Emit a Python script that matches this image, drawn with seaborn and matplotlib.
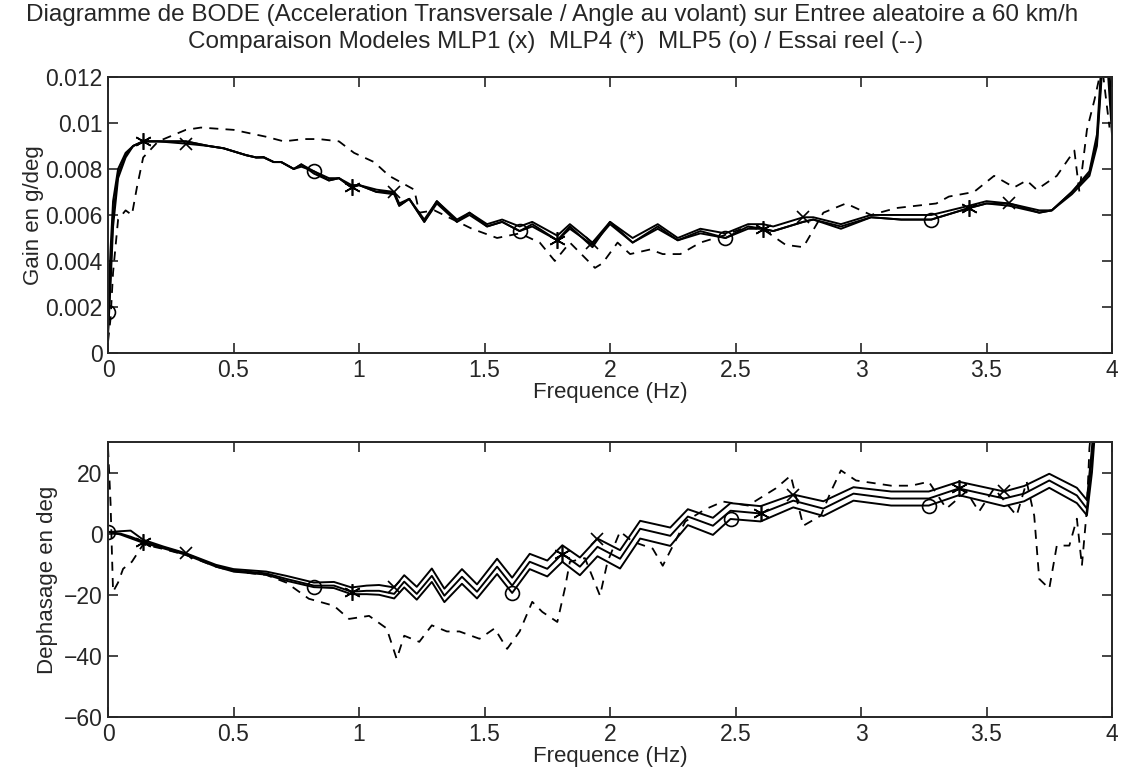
import numpy as np
import pandas as pd
import matplotlib
matplotlib.use("Agg")
import matplotlib.pyplot as plt
import seaborn as sns

# gain plot (g/deg)
gain_f = [0.00, 0.01, 0.02, 0.04, 0.07, 0.10, 0.14, 0.20, 0.31, 0.40,
          0.46, 0.55, 0.59, 0.62, 0.66, 0.69, 0.74, 0.77, 0.82, 0.88,
          0.92, 0.97, 1.00, 1.07, 1.14, 1.16, 1.20, 1.26, 1.31, 1.39,
          1.44, 1.51, 1.57, 1.64, 1.69, 1.79, 1.84, 1.93, 2.00, 2.09,
          2.19, 2.27, 2.36, 2.46, 2.55, 2.61, 2.65, 2.77, 2.81, 2.92,
          3.04, 3.16, 3.28, 3.43, 3.50, 3.59, 3.71, 3.76, 3.84, 3.91,
          3.94, 3.96, 3.98, 4.00]
gain_mlp1 = [0.0008, 0.0030, 0.0055, 0.0076, 0.0085, 0.0090, 0.0092, 0.0092, 0.0091, 0.0090,
             0.0089, 0.0086, 0.0085, 0.0085, 0.0083, 0.0083, 0.0080, 0.0081, 0.0079, 0.0076,
             0.0076, 0.0073, 0.0073, 0.0071, 0.0070, 0.0065, 0.0067, 0.0058, 0.0066, 0.0058,
             0.0061, 0.0056, 0.0058, 0.0055, 0.0057, 0.0051, 0.0056, 0.0048, 0.0057, 0.0050,
             0.0056, 0.0050, 0.0054, 0.0052, 0.0056, 0.0056, 0.0055, 0.0059, 0.0059, 0.0056,
             0.0060, 0.0060, 0.0060, 0.0064, 0.0066, 0.0065, 0.0062, 0.0062, 0.0070, 0.0079,
             0.0095, 0.0130, 0.0128, 0.0095]
gain_mlp4 = [0.0010, 0.0035, 0.0060, 0.0078, 0.0086, 0.0090, 0.0092, 0.0092, 0.0092, 0.0090,
             0.0089, 0.0086, 0.0085, 0.00852, 0.0083, 0.0083, 0.0080, 0.0082, 0.0078, 0.0075,
             0.0076, 0.0072, 0.0073, 0.0070, 0.0070, 0.0064, 0.0067, 0.0057, 0.0066, 0.0057,
             0.0061, 0.0055, 0.0057, 0.0053, 0.0056, 0.0049, 0.0055, 0.0046, 0.0057, 0.0048,
             0.0055, 0.0049, 0.0053, 0.0050, 0.0055, 0.0054, 0.0053, 0.0057, 0.0058, 0.0054,
             0.0059, 0.0058, 0.0058, 0.0063, 0.0065, 0.0065, 0.0061, 0.0062, 0.0070, 0.0078,
             0.0092, 0.0125, 0.0135, 0.0100]
gain_mlp5 = [0.0018, 0.0045, 0.0066, 0.0080, 0.0087, 0.0090, 0.0092, 0.0092, 0.0092, 0.0090,
             0.0089, 0.0086, 0.0085, 0.0085, 0.0083, 0.0083, 0.0080, 0.0082, 0.0079, 0.0075,
             0.0076, 0.0072, 0.0073, 0.0070, 0.0069, 0.0064, 0.0067, 0.0057, 0.0065, 0.0057,
             0.0060, 0.0055, 0.0057, 0.0053, 0.0055, 0.0049, 0.0054, 0.0047, 0.0056, 0.0048,
             0.0054, 0.0049, 0.0052, 0.0050, 0.0054, 0.0054, 0.0053, 0.0057, 0.0058, 0.0055,
             0.0059, 0.0058, 0.0058, 0.0063, 0.0065, 0.0064, 0.0061, 0.0062, 0.0069, 0.0077,
             0.0090, 0.0122, 0.0138, 0.0105]

meas_gf = [0.000, 0.010, 0.020, 0.040, 0.070, 0.095, 0.115, 0.14, 0.20, 0.31,
           0.37, 0.50, 0.63, 0.70, 0.78, 0.84, 0.92, 0.98, 1.06, 1.12,
           1.22, 1.24, 1.30, 1.45, 1.55, 1.64, 1.72, 1.78, 1.84, 1.94,
           1.97, 2.03, 2.08, 2.16, 2.21, 2.28, 2.36, 2.45, 2.55, 2.62,
           2.70, 2.77, 2.85, 2.94, 3.04, 3.14, 3.30, 3.35, 3.45, 3.53,
           3.61, 3.66, 3.70, 3.78, 3.85, 3.87, 3.90, 3.93, 3.96, 3.99]
meas_gain = [0.0005, 0.0015, 0.0035, 0.0058, 0.0062, 0.0060, 0.0072, 0.0085, 0.0092, 0.0097,
             0.0098, 0.0097, 0.0094, 0.0092, 0.0093, 0.0093, 0.0092, 0.0087, 0.0083, 0.0077,
             0.0071, 0.0061, 0.0062, 0.0054, 0.0050, 0.0052, 0.0048, 0.0040, 0.0048, 0.0037,
             0.0039, 0.0048, 0.0043, 0.0045, 0.0043, 0.0043, 0.0048, 0.0051, 0.0055, 0.0053,
             0.0047, 0.0046, 0.0061, 0.0065, 0.0060, 0.0063, 0.0065, 0.0068, 0.0070, 0.0077,
             0.0072, 0.0075, 0.0071, 0.0077, 0.0088, 0.0070, 0.0097, 0.0110, 0.0125, 0.0098]

# phase plot (deg)
phase_f = [0.00, 0.05, 0.09, 0.14, 0.22, 0.31, 0.43, 0.50, 0.63, 0.71,
           0.82, 0.90, 0.97, 1.03, 1.08, 1.14, 1.18, 1.23, 1.29, 1.34,
           1.41, 1.47, 1.55, 1.61, 1.68, 1.75, 1.81, 1.88, 1.95, 2.04,
           2.12, 2.24, 2.31, 2.41, 2.48, 2.60, 2.73, 2.85, 2.97, 3.12,
           3.27, 3.39, 3.57, 3.65, 3.75, 3.86, 3.90, 3.92, 3.94]
phase_mlp1 = [0.5, 0.8, 1.0, -2.0, -4.2, -6.4, -10.2, -11.6, -12.4, -13.8,
              -16.0, -15.8, -17.6, -17.0, -16.8, -17.6, -13.6, -17.4, -11.4, -18.0,
              -11.6, -16.6, -8.2, -14.4, -6.6, -8.8, -3.8, -7.8, -1.6, -5.4,
              4.2, 2.0, 8.0, 5.2, 10.0, 9.0, 12.8, 10.6, 15.2, 13.8,
              13.8, 17.0, 13.8, 15.6, 19.6, 15.0, 11.0, 28.0, 50.0]
phase_mlp4 = [0.5, 0.0, -1.0, -2.6, -4.5, -6.6, -10.5, -12.0, -13.0, -14.8,
              -17.0, -17.0, -19.0, -18.7, -18.7, -19.7, -15.7, -19.7, -13.8, -20.3,
              -14.1, -19.0, -10.8, -17.0, -9.2, -11.5, -6.6, -10.8, -4.3, -8.2,
              1.6, -0.7, 5.6, 2.6, 7.5, 6.6, 10.8, 8.2, 13.1, 11.5,
              11.5, 14.8, 11.5, 13.1, 17.4, 12.5, 8.2, 25.0, 45.0]
phase_mlp5 = [0.7, -0.3, -1.5, -3.0, -4.8, -6.9, -10.8, -12.4, -13.4, -15.4,
              -17.5, -17.8, -19.8, -19.8, -20.0, -21.2, -17.6, -21.6, -15.8, -22.4,
              -16.4, -21.2, -13.2, -19.4, -11.6, -14.0, -9.2, -13.6, -7.4, -11.4,
              -1.6, -4.0, 2.8, -0.4, 4.8, 4.0, 8.6, 5.8, 10.8, 9.2,
              9.2, 12.6, 9.0, 10.6, 15.0, 10.0, 6.0, 20.0, 42.0]

meas_pf = [0.000, 0.010, 0.015, 0.020, 0.040, 0.060, 0.075, 0.095, 0.14, 0.22,
           0.31, 0.43, 0.50, 0.63, 0.71, 0.80, 0.90, 0.96, 1.04, 1.11,
           1.15, 1.18, 1.24, 1.29, 1.35, 1.40, 1.48, 1.54, 1.59, 1.64,
           1.69, 1.73, 1.79, 1.82, 1.84, 1.90, 1.96, 1.99, 2.04, 2.09,
           2.17, 2.21, 2.30, 2.38, 2.45, 2.55, 2.66, 2.72, 2.77, 2.84,
           2.88, 2.92, 2.98, 3.12, 3.20, 3.27, 3.34, 3.42, 3.47, 3.53,
           3.62, 3.66, 3.69, 3.71, 3.75, 3.78, 3.83, 3.86, 3.88, 3.90,
           3.91, 3.93]
meas_phase = [28, 10, -5, -19, -16, -11.5, -10.5, -9.2, -3.5, -5,
              -7, -10.8, -12.3, -13.5, -16, -21.3, -23.6, -27.9, -26.9, -31,
              -41, -33.4, -35.4, -30, -32, -32, -34.4, -31, -37.7, -32,
              -22.3, -25.6, -28.9, -18, -9.2, -8, -20.3, -9.2, 0.7, -2.6,
              -4.9, -10.5, 4, 8, 10.5, 9.2, 14.8, 19, 2.6, 5.9,
              13.8, 20.7, 17.4, 15.7, 15.7, 17, 8.2, 13.8, 7.2, 14.8,
              5.9, 17, 5.9, -14.8, -18, -3.9, -3.9, 4.9, -10.5, 8.2,
              28, 45]

# marker frequencies (one symbol every ~0.82 Hz per model)
marks_mlp1 = [0.31, 1.14, 1.95, 2.77, 3.59]
marks_mlp4 = [0.14, 0.97, 1.79, 2.61, 3.43]
marks_mlp5 = [0.00, 0.82, 1.64, 2.46, 3.28]

x_ticks = [0, 0.5, 1, 1.5, 2, 2.5, 3, 3.5, 4]
x_labels = ["0", "0.5", "1", "1.5", "2", "2.5", "3", "3.5", "4"]
gain_ticks = [0, 0.002, 0.004, 0.006, 0.008, 0.010, 0.012]
gain_labels = ["0", "0.002", "0.004", "0.006", "0.008", "0.01", "0.012"]
phase_ticks = [-60, -40, -20, 0, 20]
phase_labels = ["\u221260", "\u221240", "\u221220", "0", "20"]

sns.set_style("ticks")
plt.rcParams["font.family"] = ["Liberation Sans", "DejaVu Sans"]
plt.rcParams["axes.linewidth"] = 1.4


def near(fgrid, marks):
    fgrid = np.asarray(fgrid)
    return [int(np.argmin(np.abs(fgrid - m))) for m in marks]


fig = plt.figure(figsize=(11.22, 7.82), dpi=100)
ax1 = fig.add_axes([0.0963, 0.5486, 0.8948, 0.353])
ax2 = fig.add_axes([0.0963, 0.0831, 0.8948, 0.3517])

asterisk = (6, 2, 0)
models = [
    ("MLP1", "x", 9, marks_mlp1),
    ("MLP4", asterisk, 12, marks_mlp4),
    ("MLP5", "o", 10, marks_mlp5),
]

gain_df = pd.DataFrame({"f": gain_f, "MLP1": gain_mlp1, "MLP4": gain_mlp4, "MLP5": gain_mlp5})
phase_df = pd.DataFrame({"f": phase_f, "MLP1": phase_mlp1, "MLP4": phase_mlp4, "MLP5": phase_mlp5})

for ax, df, mf, mv in [(ax1, gain_df, meas_gf, meas_gain), (ax2, phase_df, meas_pf, meas_phase)]:
    sns.lineplot(x=mf, y=mv, ax=ax, color="black", lw=1.3, estimator=None, sort=False,
                 dashes=False, linestyle=(0, (5, 4)))
    for name, mk, ms, marks in models:
        sns.lineplot(data=df, x="f", y=name, ax=ax, color="black", lw=1.4,
                     estimator=None, sort=False, marker=mk, markersize=ms,
                     markevery=near(df["f"], marks), markerfacecolor="none",
                     markeredgecolor="black", markeredgewidth=1.2)

for ax in (ax1, ax2):
    ax.set_xlim(0, 4)
    ax.set_xticks(x_ticks)
    ax.set_xticklabels(x_labels)
    ax.tick_params(direction="in", top=True, right=True, length=7, width=1.2,
                   labelsize=16.5, pad=4)
    ax.set_xlabel("Frequence (Hz)", fontsize=16, labelpad=0)
    for s in ax.spines.values():
        s.set_visible(True)
        s.set_linewidth(1.4)

ax1.set_ylim(0, 0.012)
ax1.set_yticks(gain_ticks)
ax1.set_yticklabels(gain_labels)
ax1.set_ylabel("Gain en g/deg", fontsize=16, labelpad=1)

ax2.set_ylim(-60, 30)
ax2.set_yticks(phase_ticks)
ax2.set_yticklabels(phase_labels)
ax2.set_ylabel("Dephasage en deg", fontsize=16, labelpad=4)

fig.text(0.492, 1 - 4 / 782, "Diagramme de BODE (Acceleration Transversale / Angle au volant) sur Entree aleatoire a 60 km/h",
         ha="center", va="top", fontsize=17.5)
fig.text(0.495, 1 - 31 / 782, "Comparaison Modeles MLP1 (x)  MLP4 (*)  MLP5 (o) / Essai reel (--)",
         ha="center", va="top", fontsize=17.5)

fig.savefig("out.png", dpi=100, facecolor="white")
